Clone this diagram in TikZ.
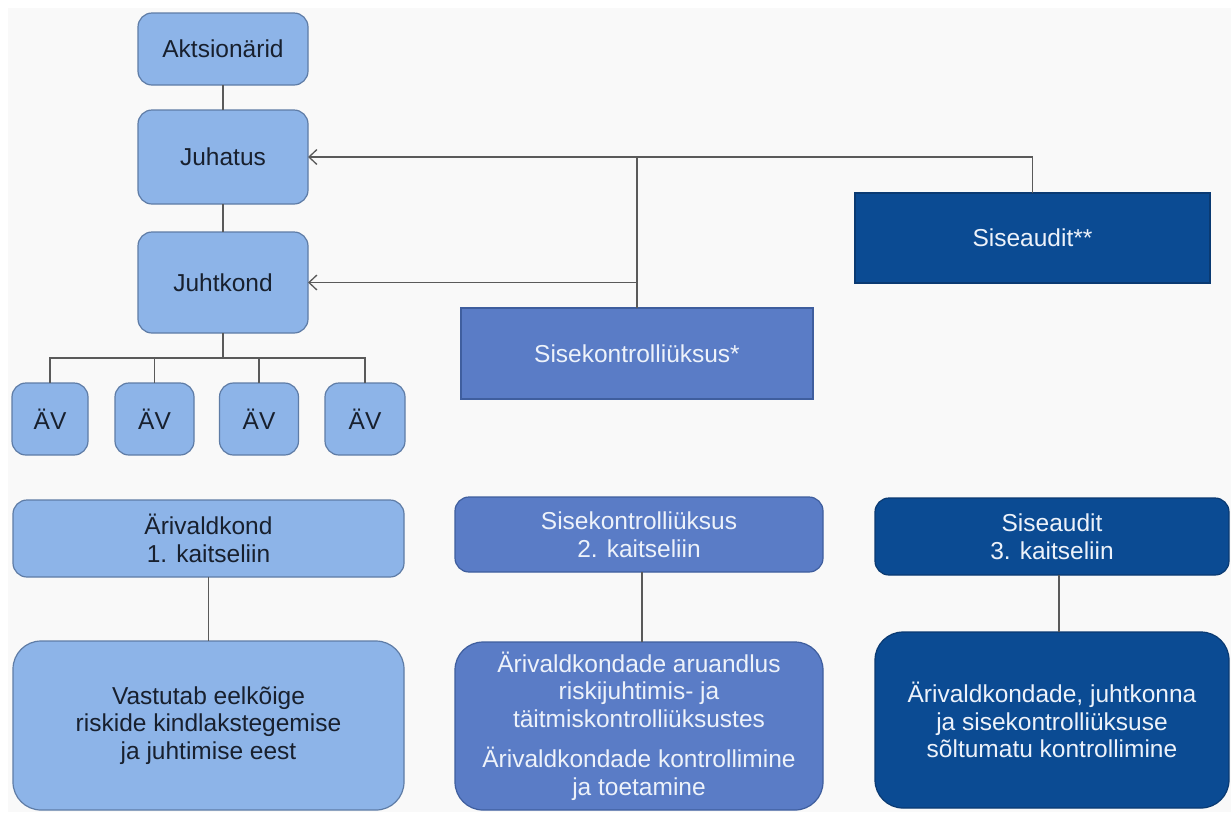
\documentclass[tikz,border=0pt]{standalone}
\usepackage{fontspec}
\setmainfont{Liberation Sans}
\usetikzlibrary{arrows.meta}
\definecolor{lightfill}{HTML}{8DB4E8}
\definecolor{lightdraw}{HTML}{5E7CA6}
\definecolor{midfill}{HTML}{5A7CC6}
\definecolor{middraw}{HTML}{3F5E9E}
\definecolor{darkfill}{HTML}{0B4B93}
\definecolor{darkdraw}{HTML}{0A3A72}
\definecolor{lighttext}{HTML}{18202E}
\definecolor{paletext}{HTML}{EDF2FA}
\definecolor{linecol}{HTML}{5A5A5A}
\definecolor{bgcol}{HTML}{F9F9F9}
\begin{document}
\begin{tikzpicture}[x=1pt,y=-1pt,
 box/.style={rectangle, inner sep=0pt, outer sep=0pt, align=center, font=\fontsize{24.5}{27.5}\selectfont, line width=1.2pt},
 lightbox/.style={box, fill=lightfill, draw=lightdraw, text=lighttext, rounded corners=14pt},
 midbox/.style={box, fill=midfill, draw=middraw, text=paletext},
 darkbox/.style={box, fill=darkfill, draw=darkdraw, text=paletext},
 conn/.style={draw=linecol, line width=1.3pt},
 arr/.style={conn, -{Straight Barb[length=8pt,width=15pt,line width=1.3pt]}},
]
\useasboundingbox (0,0) rectangle (1231,812);
\fill[white] (0,0) rectangle (1231,812);
\fill[bgcol] (8,8) rectangle (1231,812);

% top hierarchy
\node[lightbox, minimum width=170pt, minimum height=72pt] (akt) at (223,49) {Aktsionärid};
\node[lightbox, minimum width=170pt, minimum height=94pt] (juh) at (223,157) {Juhatus};
\node[lightbox, minimum width=170pt, minimum height=101pt] (jk) at (223,282.5) {Juhtkond};
\node[lightbox, minimum width=76pt, minimum height=72pt] (av1) at (50,419) {ÄV};
\node[lightbox, minimum width=79pt, minimum height=72pt] (av2) at (154.5,419) {ÄV};
\node[lightbox, minimum width=79pt, minimum height=72pt] (av3) at (259,419) {ÄV};
\node[lightbox, minimum width=80pt, minimum height=72pt] (av4) at (365,419) {ÄV};

\node[midbox, minimum width=352pt, minimum height=91pt] (sk) at (637,353.5) {Sisekontrolliüksus*};
\node[darkbox, minimum width=355pt, minimum height=90pt] (sa) at (1032.5,238) {Siseaudit**};

% bottom row
\node[lightbox, minimum width=391pt, minimum height=77pt] (ar1) at (208.5,538.5) {Ärivaldkond\\1. kaitseliin};
\node[lightbox, rounded corners=28pt, minimum width=391pt, minimum height=169pt] (ar2) at (208.5,725.5) {Vastutab eelkõige\\riskide kindlakstegemise\\ja juhtimise eest};
\node[midbox, rounded corners=14pt, minimum width=368pt, minimum height=75pt] (sk1) at (639,534.5) {Sisekontrolliüksus\\2. kaitseliin};
\node[midbox, rounded corners=28pt, minimum width=368pt, minimum height=168pt] (sk2) at (639,726) {Ärivaldkondade aruandlus\\riskijuhtimis- ja\\täitmiskontrolliüksustes\\[13pt]Ärivaldkondade kontrollimine\\ja toetamine};
\node[darkbox, rounded corners=14pt, minimum width=354pt, minimum height=77pt] (sa1) at (1052,536.5) {Siseaudit\\3. kaitseliin};
\node[darkbox, rounded corners=28pt, minimum width=354pt, minimum height=176pt] (sa2) at (1052,720) {Ärivaldkondade, juhtkonna\\ja sisekontrolliüksuse\\sõltumatu kontrollimine};

% connectors
\draw[conn] (akt.south) -- (juh.north);
\draw[conn] (juh.south) -- (jk.north);
\coordinate (bar) at (223,358);
\draw[conn] (jk.south) -- (bar);
\draw[conn] (av1.north) |- (av4.north |- bar) -- (av4.north);
\draw[conn] (av2.north) -- (av2.north |- bar);
\draw[conn] (av3.north) -- (av3.north |- bar);

\draw[arr] (sa.north) |- (juh.east);
\draw[conn] (sk.north) -- (sk.north |- juh.east);
\draw[arr] (sk.north |- jk.east) -- (jk.east);

\draw[conn] (ar1.south) -- (ar2.north);
\draw[conn] ([xshift=3pt]sk1.south) -- ([xshift=3pt]sk2.north);
\draw[conn] ([xshift=7pt]sa1.south) -- ([xshift=7pt]sa2.north);
\end{tikzpicture}
\end{document}
